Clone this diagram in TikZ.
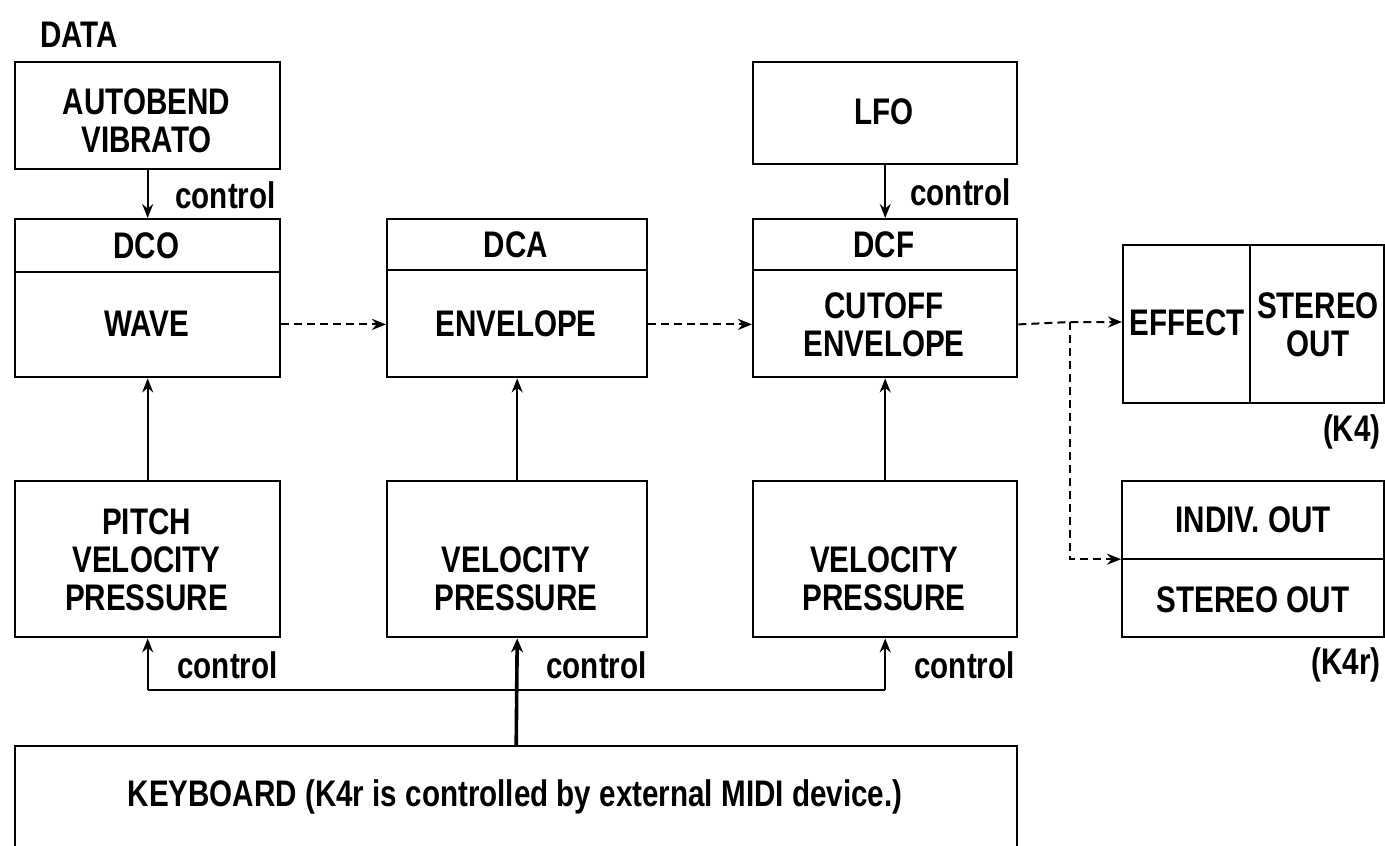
\documentclass[tikz,border=0pt]{standalone}
\usepackage{fontspec}
\setmainfont{Liberation Sans}[FakeStretch=0.8]
\usetikzlibrary{arrows.meta,calc}
\begin{document}
\begin{tikzpicture}[x=0.5pt,y=-0.5pt,
  box/.style={draw,line width=1.2pt,rectangle,inner sep=0pt,anchor=north west},
  lbl/.style={font=\fontsize{18.5}{19}\selectfont\bfseries,align=center,inner sep=0pt},
  ctl/.style={font=\fontsize{18.5}{19}\selectfont\bfseries,anchor=west,inner sep=0pt},
  arr/.style={line width=1pt,-{Stealth[length=7pt,width=5.5pt]}},
  dsh/.style={line width=1pt,dash pattern=on 4pt off 2.5pt,-{Stealth[length=7pt,width=5.5pt]}},
  div/.style={line width=1.2pt}]
\useasboundingbox (0,0) rectangle (1385,845);
\clip (0,0) rectangle (1385,845);
% boxes
\node[box,minimum width=132.5pt,minimum height=53.5pt] (auto) at (14,61) {};
\node[box,minimum width=132.5pt,minimum height=79pt] (dco) at (14,218) {};
\node[box,minimum width=130pt,minimum height=79pt] (dca) at (386,218) {};
\node[box,minimum width=132pt,minimum height=79pt] (dcf) at (752,218) {};
\node[box,minimum width=132pt,minimum height=51pt] (lfo) at (752,61) {};
\node[box,minimum width=130.5pt,minimum height=79pt] (eff) at (1122,244) {};
\node[box,minimum width=131pt,minimum height=78pt] (out) at (1121,480) {};
\node[box,minimum width=132.5pt,minimum height=78pt] (pitch) at (14,480) {};
\node[box,minimum width=130pt,minimum height=78pt] (vel1) at (386,480) {};
\node[box,minimum width=132pt,minimum height=78pt] (vel2) at (752,480) {};
\node[box,minimum width=501pt,minimum height=60pt] (kb) at (14,745) {};
% dividers
\draw[div] (dco.west |- 0,272) -- (dco.east |- 0,272);
\draw[div] (dca.west |- 0,270) -- (dca.east |- 0,270);
\draw[div] (dcf.west |- 0,270) -- (dcf.east |- 0,270);
\draw[div] (eff.north -| 1250,0) -- (eff.south -| 1250,0);
\draw[div] (out.west) -- (out.east);
% texts
\node[lbl,anchor=west] (data) at (40,35) {DATA};
\node[lbl] (tauto) at (146.5,121) {AUTOBEND\\VIBRATO};
\node[lbl] (tlfo) at (884,112) {LFO};
\node[lbl] (tdco) at (146.5,246) {DCO};
\node[lbl] (twave) at (146.5,324) {WAVE};
\node[lbl] (tdca) at (516,245) {DCA};
\node[lbl] (tenv) at (516,324) {ENVELOPE};
\node[lbl] (tdcf) at (884,245) {DCF};
\node[lbl] (tcut) at (884,325) {CUTOFF\\ENVELOPE};
\node[lbl] (teff) at (1187,323) {EFFECT};
\node[lbl] (tst) at (1318,325) {STEREO\\OUT};
\node[lbl,anchor=east] (k4) at (1381,432) {(K4)};
\node[lbl] (tind) at (1253,520) {INDIV. OUT};
\node[lbl] (tso) at (1253,600) {STEREO OUT};
\node[lbl,anchor=east] (k4r) at (1381,665) {(K4r)};
\node[lbl] (tpitch) at (146.5,560) {PITCH\\VELOCITY\\PRESSURE};
\node[lbl] (tvel1) at (516,579) {VELOCITY\\PRESSURE};
\node[lbl] (tvel2) at (884,579) {VELOCITY\\PRESSURE};
\node[lbl] (tkb) at (515,797) {KEYBOARD (K4r is controlled by external MIDI device.)};
% control labels
\node[ctl] (c1) at (175,195) {control};
\node[ctl] (c2) at (910,192) {control};
\node[ctl] (c3) at (177,665) {control};
\node[ctl] (c4) at (546,665) {control};
\node[ctl] (c5) at (914,665) {control};
% arrows
\draw[arr] (auto.south) -- (dco.north);
\draw[arr] (lfo.south) -- (dcf.north);
\draw[arr] (pitch.north) -- (dco.south);
\draw[arr] (vel1.north) -- (dca.south);
\draw[arr] (vel2.north) -- (dcf.south);
\draw[dsh] ($(dco.south east)+(0,-54)$) -- ($(dca.south west)+(0,-54)$);
\draw[dsh] ($(dca.south east)+(0,-54)$) -- ($(dcf.south west)+(0,-54)$);
\coordinate (br) at (1070,322);
\draw[dsh] ($(dcf.south east)+(0,-54)$) -- (br) -- (eff.west |- br);
\draw[dsh] (br) |- (out.west);
\coordinate (cl) at (pitch.south |- 0,690);
\coordinate (cr) at (vel2.south |- 0,690);
\draw[line width=1pt] (cl) -- (cr);
\draw[arr] (cl) -- (pitch.south);
\draw[arr] (cr) -- (vel2.south);
\draw[line width=1.8pt,-{Stealth[length=7pt,width=6pt]}] (kb.north) -- (vel1.south);
\end{tikzpicture}
\end{document}
